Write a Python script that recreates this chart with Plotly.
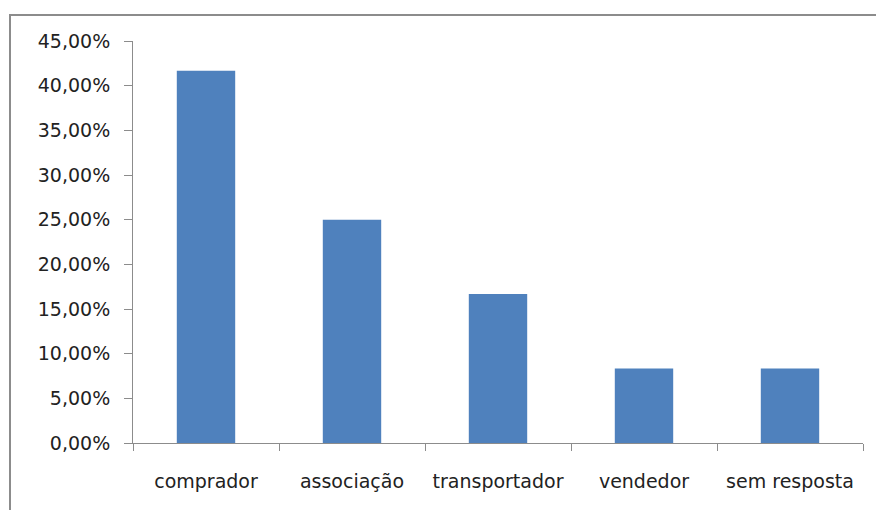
import plotly.graph_objects as go

categories = ["comprador", "associação", "transportador", "vendedor", "sem resposta"]
values = [0.4167, 0.25, 0.1667, 0.0833, 0.0833]
y_ticks = [0, 0.05, 0.10, 0.15, 0.20, 0.25, 0.30, 0.35, 0.40, 0.45]
y_tick_labels = ["0,00%", "5,00%", "10,00%", "15,00%", "20,00%", "25,00%", "30,00%", "35,00%", "40,00%", "45,00%"]

fig = go.Figure(go.Bar(x=categories, y=values, marker=dict(color="#4f81bd", line=dict(width=0)), width=0.4))

W, H = 876, 510
L, R, T, B = 133, 13, 41, 67
pw, ph = W - L - R, H - T - B

fig.update_layout(
    width=W, height=H,
    margin=dict(l=L, r=R, t=T, b=B),
    paper_bgcolor="white", plot_bgcolor="white",
    font=dict(family="DejaVu Sans", size=19, color="#222222"),
    showlegend=False,
    bargap=0.6,
)
fig.update_yaxes(
    range=[0, 0.45], tickvals=y_ticks, ticktext=y_tick_labels,
    tickfont=dict(size=19), automargin=False,
    showgrid=False, zeroline=False, showline=True, linecolor="#8c8c8c", linewidth=1,
    ticks="outside", ticklen=8, tickcolor="#8c8c8c", ticklabelstandoff=10,
)
fig.update_xaxes(
    tickfont=dict(size=19), tickangle=0, automargin=False,
    showgrid=False, showline=True, linecolor="#8c8c8c", linewidth=1,
    ticks="outside", ticklen=7, tickcolor="#8c8c8c", tickson="boundaries",
    ticklabelstandoff=21,
)
# outer chart border (extends past right/bottom edges as in the reference)
fig.add_shape(type="rect", xref="paper", yref="paper",
              x0=(10 - L) / pw, y0=-1, x1=2, y1=1 + (T - 15) / ph,
              line=dict(color="#8c8c8c", width=2), layer="below")

fig.write_html("out.html")
